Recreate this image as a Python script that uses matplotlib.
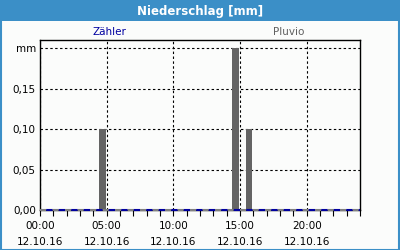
import matplotlib
matplotlib.use("Agg")
import matplotlib.pyplot as plt
from matplotlib.patches import Rectangle
from matplotlib.ticker import MultipleLocator, FixedLocator

# --- data ---
title = "Niederschlag [mm]"
series_names = ["Zähler", "Pluvio"]
bar_hours = [4.67, 14.67, 15.67]          # hour of day (12.10.16)
bar_values = [0.10, 0.20, 0.10]           # Pluvio precipitation [mm]
line_hours = [0, 24]
zaehler_values = [0.0, 0.0]
pluvio_line_values = [0.0, 0.0]
ytick_values = [0.0, 0.05, 0.10, 0.15, 0.20]
ytick_labels = ["0,00", "0,05", "0,10", "0,15", "mm"]
xtick_hours = [0, 5, 10, 15, 20]
xtick_labels = ["00:00\n12.10.16", "05:00\n12.10.16", "10:00\n12.10.16",
                "15:00\n12.10.16", "20:00\n12.10.16"]

BLUE_FRAME = "#3b8fc7"
BAR_GREY = "#646464"
BG = "#fbfcfb"

fig = plt.figure(figsize=(4, 2.5), dpi=100, facecolor=BG)
# title bar and frame
fig.patches.append(Rectangle((0, 1 - 21 / 250), 1, 21 / 250, transform=fig.transFigure,
                             facecolor=BLUE_FRAME, edgecolor="none", zorder=0))
fig.patches.append(Rectangle((0.0015, 0.002), 0.997, 0.996, transform=fig.transFigure,
                             facecolor="none", edgecolor=BLUE_FRAME, linewidth=1.5, zorder=0))
fig.text(0.5, 1 - 11 / 250, title, color="white", fontsize=8.5, fontweight="bold",
         ha="center", va="center")

ax = fig.add_axes([40 / 400, 1 - 210 / 250, 320 / 400, 170 / 250])
ax.set_facecolor(BG)
ax.bar(bar_hours, bar_values, width=0.5, color=BAR_GREY, zorder=3)
ax.plot(line_hours, pluvio_line_values, color="#808080", lw=1.5,
        linestyle=(0, (3, 3)), zorder=4, clip_on=False)
ax.plot(line_hours, zaehler_values, color="#0000a0", lw=1.5,
        linestyle=(3, (3, 3)), zorder=4, clip_on=False)

ax.set_xlim(0, 24)
ax.set_ylim(0, 0.21)
ax.yaxis.set_major_locator(FixedLocator(ytick_values))
ax.set_yticklabels(ytick_labels)
ax.xaxis.set_major_locator(FixedLocator(xtick_hours))
ax.set_xticklabels(xtick_labels, linespacing=1.75)
ax.xaxis.set_minor_locator(MultipleLocator(1))
ax.tick_params(axis="x", which="both", direction="out", length=4, width=0.8, pad=4,
               labelsize=7.5, colors="black")
ax.tick_params(axis="y", which="both", length=0, pad=3, labelsize=7.5)
ax.grid(True, which="major", color="black", linestyle=(0, (2.2, 2.2)), linewidth=0.8)
for s in ax.spines.values():
    s.set_linewidth(1.0)
    s.set_color("black")

fig.text(109 / 400, 1 - 32 / 250, series_names[0], color="#0000a0", fontsize=7.5,
         ha="center", va="center")
fig.text(289 / 400, 1 - 32 / 250, series_names[1], color="#606060", fontsize=7.5,
         ha="center", va="center")

fig.savefig("out.png", dpi=100, facecolor=BG)
